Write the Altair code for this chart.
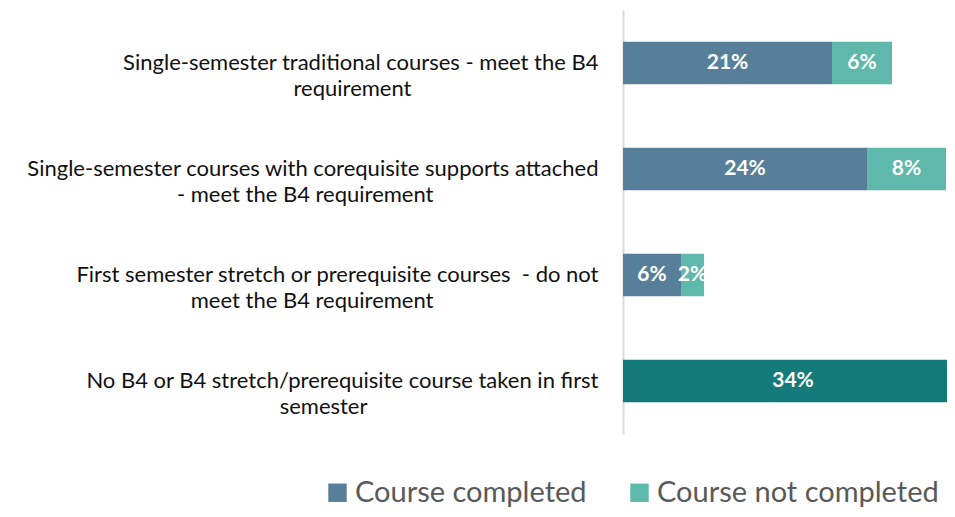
import altair as alt
import pandas as pd

# ---- data ----
line1 = [
    "Single-semester traditional courses - meet the B4",
    "Single-semester courses with corequisite supports attached",
    "First semester stretch or prerequisite courses\u00a0 - do not",
    "No B4 or B4 stretch/prerequisite course taken in first",
]
line2 = [
    "requirement",
    "- meet the B4 requirement",
    "meet the B4 requirement",
    "semester",
]
completed = [20.9, 24.4, 5.8, None]
not_completed = [6.0, 7.9, 2.3, None]
no_course = [None, None, None, 34.0]

series_names = ["Course completed", "Course not completed", "No B4 course"]
series_colors = ["#587F99", "#5EB8AC", "#147B7A"]

FONT = "Lato"

# centre the second line under the first inside a right-aligned label block
# (en spaces, closed by a zero-width space so they are not trimmed)
EN = "\u2002"
labels = []
for a, b in zip(line1, line2):
    n = max(0, round((len(a) - len(b)) * 0.45))
    labels.append(a + "|" + b + EN * n + "\u200b")

rows = []
for i, lab in enumerate(labels):
    for k, vals in enumerate([completed, not_completed, no_course]):
        v = vals[i]
        if v is None:
            continue
        rows.append({"cat": lab, "series": series_names[k], "order": k,
                     "value": v, "txt": f"{round(v):d}%"})
df = pd.DataFrame(rows)

xscale = alt.Scale(domain=[0, 32.4], clamp=True, nice=False)
yenc = alt.Y(
    "cat:N", sort=labels,
    scale=alt.Scale(paddingInner=0.6, paddingOuter=0.3),
    axis=alt.Axis(
        title=None, ticks=False, domainColor="#D9D9D9", domainWidth=2,
        labelExpr="split(datum.label, '|')", labelAlign="right",
        labelBaseline="middle", labelPadding=25, labelFontSize=22,
        labelFont=FONT, labelColor="#111111", labelLimit=0,
        labelLineHeight=26,
    ),
)

base = alt.Chart(df).transform_stack(
    stack="value", groupby=["cat"], as_=["x0", "x1"],
    sort=[alt.SortField("order")],
).transform_calculate(mid="(datum.x0 + datum.x1) / 2")

bars = base.mark_bar().encode(
    y=yenc,
    x=alt.X("x0:Q", scale=xscale, axis=None),
    x2="x1:Q",
    color=alt.Color(
        "series:N",
        scale=alt.Scale(domain=series_names, range=series_colors),
        legend=alt.Legend(
            values=series_names[:2], orient="none", legendX=-300, legendY=468,
            direction="horizontal", title=None, symbolType="square",
            symbolSize=340, symbolStrokeWidth=0, labelFontSize=29,
            labelFont=FONT, labelColor="#595959", labelLimit=0,
            columnPadding=38, labelOffset=3,
        ),
    ),
)

texts = base.mark_text(
    color="white", fontWeight="bold", fontSize=21, font=FONT, baseline="middle"
).encode(
    y=alt.Y("cat:N", sort=labels),
    x=alt.X("mid:Q", scale=xscale),
    text="txt:N",
)

chart = (bars + texts).properties(
    width=324, height=424,
    autosize=alt.AutoSizeParams(type="none"),
    padding={"left": 615, "top": 2, "right": 0, "bottom": 75},
).configure_view(stroke=None)

chart.save("out.html", embed_options={"renderer": "svg", "actions": False})
